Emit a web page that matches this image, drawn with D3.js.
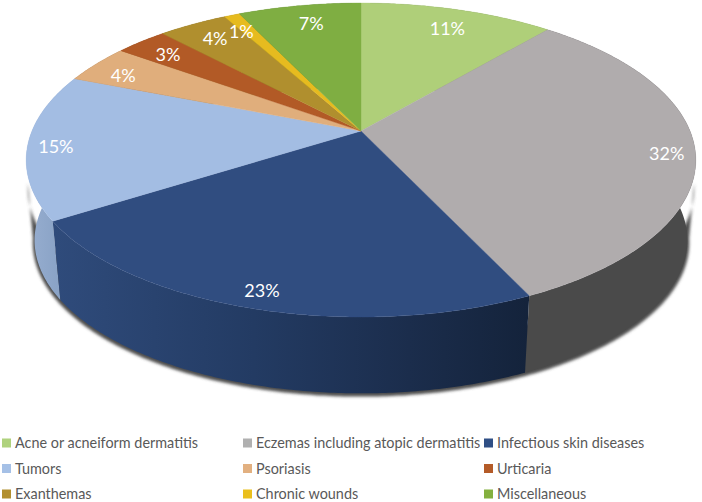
<!DOCTYPE html>
<html>
<head>
<meta charset="utf-8">
<script src="https://cdn.jsdelivr.net/npm/d3@7"></script>
<style>
  html, body { margin: 0; padding: 0; background: #fff; }
  svg { display: block; }
</style>
</head>
<body>
<div id="chart"></div>
<script>
const categories = ["Acne or acneiform dermatitis", "Eczemas including atopic dermatitis", "Infectious skin diseases",
    "Tumors", "Psoriasis", "Urticaria", "Exanthemas", "Chronic wounds", "Miscellaneous"];
const percents = [11.2, 31.8, 23, 15, 4, 3, 4, 0.9, 7.1];
const topColors = ["#afcf79", "#b0acad", "#304d80", "#a3bde3", "#e0ae7c", "#b25a26", "#b08f2e", "#e6bb1f", "#7fae42"];
const legendColors = ["#afd27d", "#b0b0b0", "#2f4f85", "#a5c0e6", "#e2b080", "#b45b28", "#b28f2e", "#eabf1c", "#84b03f"];
const wallColors = ["#6f8450", "#4a4a4a", "url(#wallNavy)", "url(#wallBlue)", "#8d6d4e", "#703a19", "#6f5a1d", "#917614", "#506e2a"];
// label nudges from the radial spot, same order as categories
const labelNudge = [[-1, 7], [9, 5], [-2, 6], [-9, 3], [0, 5], [5, 4], [6, 4], [-3, 5], [6, 6]];

const width = 702, height = 502;
const cx = 361, cy = 131;          // where the slices meet
const radiusX = 329, radiusY = 151.6, tilt = 0.185;  // perspective of the pie disc
const depth = 81, lowerScale = 0.975;
const labelRadius = 0.89;

// unit circle point -> screen, angle clockwise from the top
function project(angle, r = 1, level = 0) {
    const u = Math.sin(angle) * r, v = -Math.cos(angle) * r;
    const w = 1 - tilt * v;
    const s = 1 - (1 - lowerScale) * level;
    return [cx + s * radiusX * u / w, cy + depth * level + s * radiusY * v / w];
}

function arcPoints(a0, a1, r, level) {
    const n = Math.max(2, Math.ceil((a1 - a0) / 0.01));
    return d3.range(n + 1).map(i => project(a0 + (a1 - a0) * i / n, r, level));
}

const svg = d3.select("#chart").append("svg")
    .attr("width", width)
    .attr("height", height);

const defs = svg.append("defs");
defs.append("filter").attr("id", "blur")
    .attr("x", "-5%").attr("y", "-5%").attr("width", "110%").attr("height", "110%")
    .append("feGaussianBlur").attr("stdDeviation", 1.8);

const navy = defs.append("linearGradient").attr("id", "wallNavy")
    .attr("gradientUnits", "userSpaceOnUse")
    .attr("x1", 55).attr("x2", 528).attr("y1", 0).attr("y2", 0);
navy.append("stop").attr("offset", 0).attr("stop-color", "#2f4b7b");
navy.append("stop").attr("offset", 0.42).attr("stop-color", "#233b63");
navy.append("stop").attr("offset", 0.75).attr("stop-color", "#1b2d4c");
navy.append("stop").attr("offset", 1).attr("stop-color", "#14233b");

const blue = defs.append("linearGradient").attr("id", "wallBlue")
    .attr("gradientUnits", "userSpaceOnUse")
    .attr("x1", 28).attr("x2", 58).attr("y1", 0).attr("y2", 0);
blue.append("stop").attr("offset", 0).attr("stop-color", "#97aed0");
blue.append("stop").attr("offset", 1).attr("stop-color", "#8aa3c6");

const pie = d3.pie().sort(null).value(d => d);
const slices = pie(percents);
const line = d3.line();

// soft shadow hugging the body
const shadowFrom = Math.PI * 0.55, shadowTo = Math.PI * 1.45;
svg.append("path")
    .attr("d", line(arcPoints(shadowFrom, shadowTo, 1.004, 0.35)
        .concat(arcPoints(shadowFrom, shadowTo, 1.006, 1.025).reverse())) + "Z")
    .attr("fill", "#4d4d4d")
    .attr("filter", "url(#blur)");

// side walls, back to front
const midDepth = d => -Math.cos((d.startAngle + d.endAngle) / 2);
const wallOrder = slices.slice().sort((a, b) => midDepth(a) - midDepth(b));

svg.append("g").selectAll("path")
    .data(wallOrder)
    .join("path")
    .attr("d", d => line(arcPoints(d.startAngle, d.endAngle, 1, 0)
        .concat(arcPoints(d.startAngle, d.endAngle, 1, 1).reverse())) + "Z")
    .attr("fill", d => wallColors[d.index]);

// top face
svg.append("g").selectAll("path")
    .data(slices)
    .join("path")
    .attr("d", d => line([[cx, cy]].concat(arcPoints(d.startAngle, d.endAngle, 1, 0))) + "Z")
    .attr("fill", d => topColors[d.index])
    .attr("stroke", d => topColors[d.index])
    .attr("stroke-width", 0.4);

// percent labels
svg.append("g").selectAll("text")
    .data(slices)
    .join("text")
    .attr("x", d => project((d.startAngle + d.endAngle) / 2, labelRadius)[0] + labelNudge[d.index][0])
    .attr("y", d => project((d.startAngle + d.endAngle) / 2, labelRadius)[1] + labelNudge[d.index][1])
    .attr("dy", "0.35em")
    .attr("text-anchor", "middle")
    .attr("font-family", "Lato, sans-serif")
    .attr("font-size", 18)
    .attr("fill", "#fff")
    .text(d => Math.round(d.value) + "%");

// legend
const legendX = d3.scalePoint().domain([0, 1, 2]).range([2, 484]);
const legendY = d3.scalePoint().domain([0, 1, 2]).range([443, 494]);

const legendItem = svg.append("g").selectAll("g")
    .data(categories)
    .join("g")
    .attr("transform", (d, i) => `translate(${legendX(i % 3)},${legendY(Math.floor(i / 3))})`);

legendItem.append("rect")
    .attr("y", -4.5)
    .attr("width", 9)
    .attr("height", 9)
    .attr("fill", (d, i) => legendColors[i]);

legendItem.append("text")
    .attr("x", 13)
    .attr("dy", "0.35em")
    .attr("font-family", "Lato, sans-serif")
    .attr("font-size", 14.4)
    .attr("fill", "#595959")
    .text(d => d);
</script>
</body>
</html>
